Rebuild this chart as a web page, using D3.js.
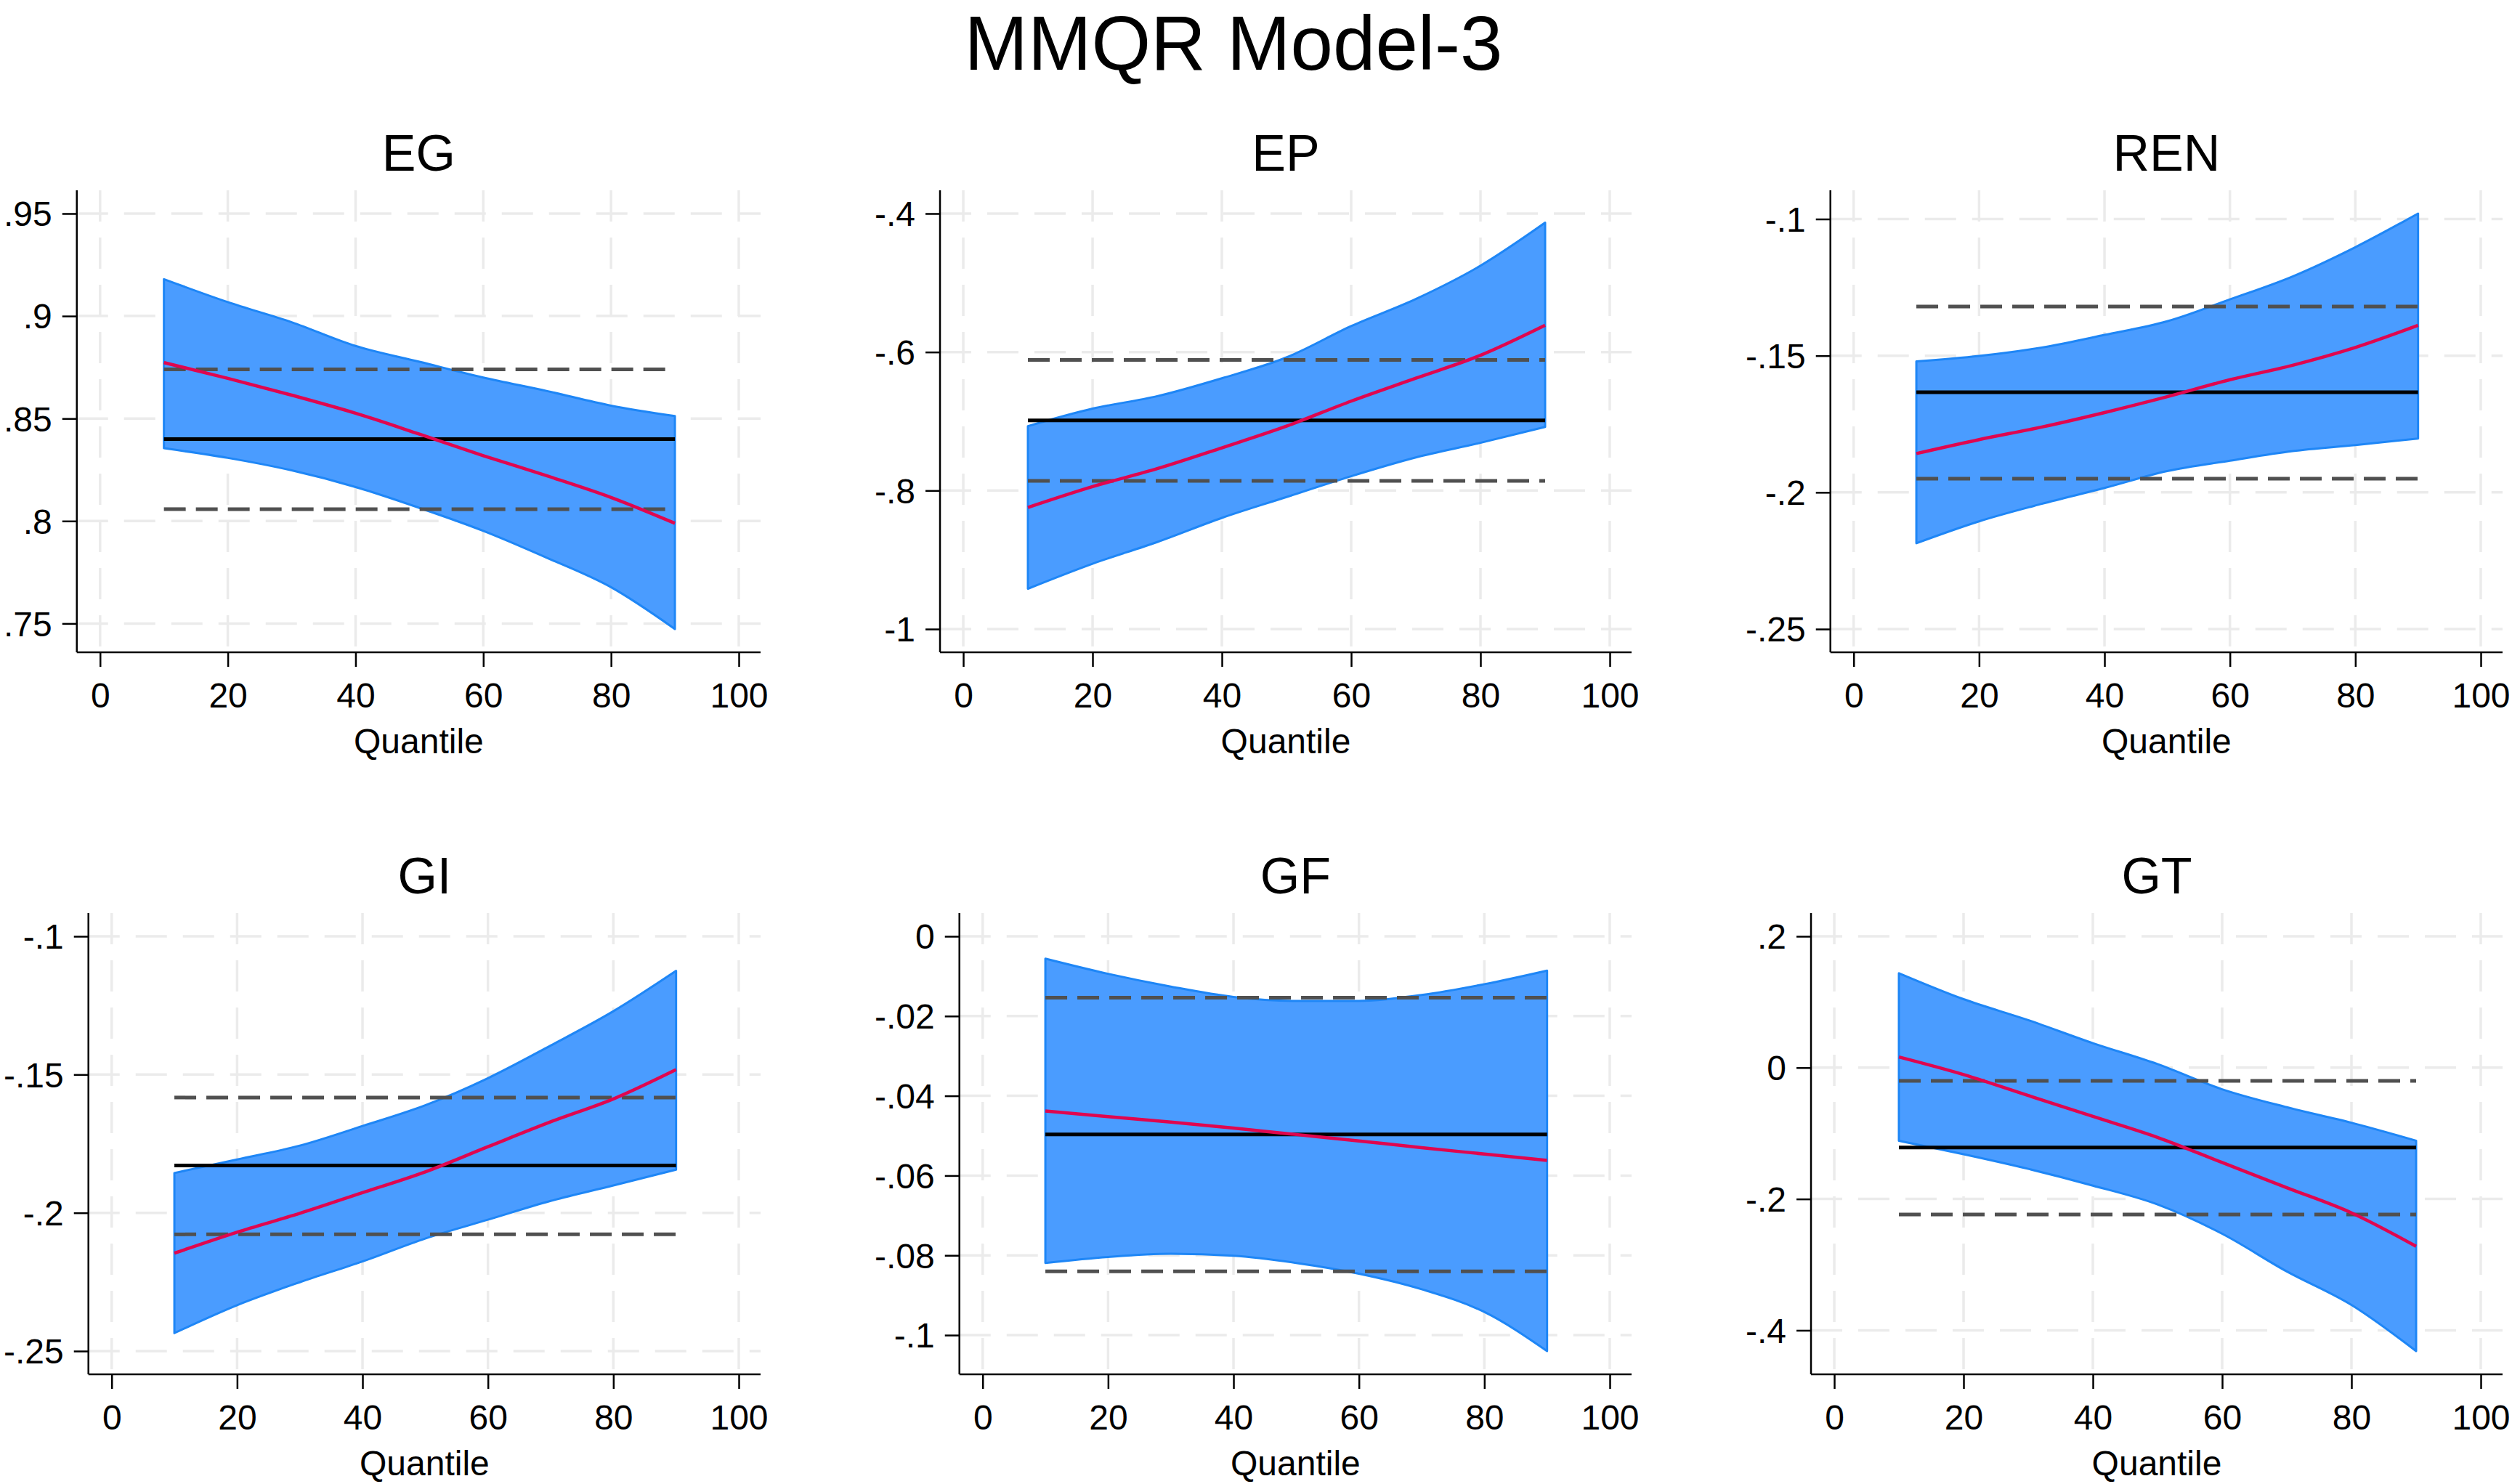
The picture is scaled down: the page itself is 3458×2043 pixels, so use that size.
<!DOCTYPE html>
<html>
<head>
<meta charset="utf-8">
<script src="https://cdn.jsdelivr.net/npm/d3@7"></script>
<style>
  html, body { margin: 0; padding: 0; background: #fff; }
  svg { display: block; font-family: "Liberation Sans", Arial, Helvetica, sans-serif; }
</style>
</head>
<body>
<svg id="chart" width="3458" height="2043"></svg>
<script>
// ---------------- DATA ----------------
const chartTitle = "MMQR Model-3";
const xAxisTitle = "Quantile";
const quantiles = [10, 20, 30, 40, 50, 60, 70, 80, 90];
const xTicks = [0, 20, 40, 60, 80, 100];
const panelNames = ["EG", "EP", "REN", "GI", "GF", "GT"];

// EG
const egUpper = [.918, .9068, .897, .8854, .8777, .870, .8634, .8563, .8512];
const egLower = [.8355, .8308, .8247, .8166, .8064, .7952, .782, .7677, .7473];
const egCoef  = [.8773, .8696, .8614, .8526, .8424, .8319, .822, .8115, .7989];
const egOls   = [.84, .8058, .874];           // estimate, lower CI, upper CI
const egTicks = [.75, .8, .85, .9, .95];
const egTickLabels = [".75", ".8", ".85", ".9", ".95"];

// EP
const epUpper = [-.707, -.6817, -.6637, -.6378, -.6077, -.5625, -.5234, -.4753, -.4132];
const epLower = [-.9418, -.9057, -.8744, -.8395, -.8094, -.7793, -.7522, -.7311, -.7082];
const epCoef  = [-.8244, -.7943, -.7684, -.7383, -.707, -.6709, -.6378, -.6047, -.5613];
const epOls   = [-.6986, -.7859, -.6113];
const epTicks = [-1, -.8, -.6, -.4];
const epTickLabels = ["-1", "-.8", "-.6", "-.4"];

// REN
const renUpper = [-.1521, -.1501, -.147, -.1424, -.1374, -.1294, -.121, -.1103, -.098];
const renLower = [-.2186, -.2106, -.2042, -.1984, -.1922, -.1884, -.1849, -.1827, -.1803];
const renCoef  = [-.1858, -.1807, -.1761, -.1708, -.165, -.1588, -.1535, -.147, -.1389];
const renOls   = [-.1634, -.195, -.132];
const renTicks = [-.25, -.2, -.15, -.1];
const renTickLabels = ["-.25", "-.2", "-.15", "-.1"];

// GI
const giUpper = [-.1856, -.1807, -.1757, -.1686, -.1611, -.1513, -.1395, -.1271, -.1125];
const giLower = [-.2435, -.2334, -.2251, -.2176, -.2093, -.2025, -.1957, -.1901, -.1844];
const giCoef  = [-.2146, -.207, -.2002, -.1927, -.1852, -.1761, -.1671, -.1588, -.1482];
const giOls   = [-.1829, -.2078, -.1583];
const giTicks = [-.25, -.2, -.15, -.1];
const giTickLabels = ["-.25", "-.2", "-.15", "-.1"];

// GF
const gfUpper = [-.0056, -.0094, -.0126, -.0152, -.0162, -.0162, -.0147, -.012, -.0086];
const gfLower = [-.0819, -.0804, -.0796, -.0801, -.0819, -.0846, -.0885, -.0942, -.104];
const gfCoef  = [-.0438, -.0452, -.0466, -.0481, -.0497, -.0513, -.053, -.0546, -.0562];
const gfOls   = [-.0497, -.084, -.0154];
const gfTicks = [-.1, -.08, -.06, -.04, -.02, 0];
const gfTickLabels = ["-.1", "-.08", "-.06", "-.04", "-.02", "0"];

// GT
const gtUpper = [.1438, .1043, .0724, .0373, .0054, -.0329, -.0603, -.0839, -.1113];
const gtLower = [-.1113, -.1318, -.1541, -.1796, -.2083, -.253, -.3104, -.3614, -.4316];
const gtCoef  = [.0163, -.0105, -.0424, -.0743, -.1062, -.1445, -.1828, -.2211, -.2721];
const gtOls   = [-.1216, -.2236, -.0201];
const gtTicks = [-.4, -.2, 0, .2];
const gtTickLabels = ["-.4", "-.2", "0", ".2"];

const panelData = [
  {upper: egUpper, lower: egLower, coef: egCoef, ols: egOls, ticks: egTicks, labels: egTickLabels},
  {upper: epUpper, lower: epLower, coef: epCoef, ols: epOls, ticks: epTicks, labels: epTickLabels},
  {upper: renUpper, lower: renLower, coef: renCoef, ols: renOls, ticks: renTicks, labels: renTickLabels},
  {upper: giUpper, lower: giLower, coef: giCoef, ols: giOls, ticks: giTicks, labels: giTickLabels},
  {upper: gfUpper, lower: gfLower, coef: gfCoef, ols: gfOls, ticks: gfTicks, labels: gfTickLabels},
  {upper: gtUpper, lower: gtLower, coef: gtCoef, ols: gtOls, ticks: gtTicks, labels: gtTickLabels}
];

// ---------------- STYLE / LAYOUT ----------------
const bandFill = "#4a9cff", bandEdge = "#1e86f6";
const coefColor = "#e0064f", olsColor = "#000", ciColor = "#505050";
const gridColor = "#ebebeb";
const tickFont = 48, titleFont = 70, axisTitleFont = 48, mainFont = 105;
const cellLeft0 = 5, colPitch = 1199, cellWidth = 1042;
const rowTop = [262, 1257], rowBottom = [898, 1892];
const tickLen = 20, labelGap = 14, yPad = 32, xPadL = 32, xPadR = 30;

const svg = d3.select("#chart");
svg.append("rect").attr("width", 3458).attr("height", 2043).attr("fill", "#fff");

svg.append("text")
  .attr("x", 1698).attr("y", 96)
  .attr("text-anchor", "middle")
  .attr("font-size", mainFont)
  .attr("fill", "#000")
  .text(chartTitle);

panelNames.forEach((name, i) => {
  const d = panelData[i];
  const col = i % 3, row = Math.floor(i / 3);
  const cellLeft = cellLeft0 + col * colPitch;
  const right = cellLeft + cellWidth;
  const top = rowTop[row], bottom = rowBottom[row];
  const g = svg.append("g");

  // measure widest y tick label
  const meas = g.append("g").attr("font-size", tickFont);
  let maxW = 0;
  d.labels.forEach(l => {
    const t = meas.append("text").text(l);
    maxW = Math.max(maxW, t.node().getComputedTextLength());
  });
  meas.remove();
  const axisX = cellLeft + maxW + tickLen + labelGap;

  const x = d3.scaleLinear().domain([0, 100]).range([axisX + xPadL, right - xPadR]);
  const allVals = d.upper.concat(d.lower, d.coef, d.ols, d.ticks);
  const y = d3.scaleLinear()
    .domain([d3.min(allVals), d3.max(allVals)])
    .range([bottom - yPad, top + yPad]);

  // grid
  g.append("g").selectAll("line.h").data(d.ticks).join("line")
    .attr("x1", axisX).attr("x2", right)
    .attr("y1", v => y(v)).attr("y2", v => y(v))
    .attr("stroke", gridColor).attr("stroke-width", 3.5)
    .attr("stroke-dasharray", "43,22");
  g.append("g").selectAll("line.v").data(xTicks).join("line")
    .attr("x1", v => x(v)).attr("x2", v => x(v))
    .attr("y1", top).attr("y2", bottom)
    .attr("stroke", gridColor).attr("stroke-width", 3.5)
    .attr("stroke-dasharray", "43,22");

  // band
  const pts = quantiles.map((q, k) => ({q, lo: d.lower[k], hi: d.upper[k], c: d.coef[k]}));
  const area = d3.area().x(p => x(p.q)).y0(p => y(p.lo)).y1(p => y(p.hi)).curve(d3.curveMonotoneX);
  g.append("path").attr("d", area(pts))
    .attr("fill", bandFill).attr("stroke", bandEdge).attr("stroke-width", 3)
    .attr("stroke-linejoin", "round");

  const q0 = quantiles[0], q1 = quantiles[quantiles.length - 1];
  // OLS CI dashed lines
  [d.ols[1], d.ols[2]].forEach(v => {
    g.append("line")
      .attr("x1", x(q0)).attr("x2", x(q1))
      .attr("y1", y(v)).attr("y2", y(v))
      .attr("stroke", ciColor).attr("stroke-width", 5)
      .attr("stroke-dasharray", "30,14");
  });
  // OLS estimate
  g.append("line")
    .attr("x1", x(q0)).attr("x2", x(q1))
    .attr("y1", y(d.ols[0])).attr("y2", y(d.ols[0]))
    .attr("stroke", olsColor).attr("stroke-width", 5);
  // quantile coefficient
  const line = d3.line().x(p => x(p.q)).y(p => y(p.c)).curve(d3.curveMonotoneX);
  g.append("path").attr("d", line(pts))
    .attr("fill", "none").attr("stroke", coefColor).attr("stroke-width", 4.5);

  // axes
  const yAxis = d3.axisLeft(y).tickValues(d.ticks)
    .tickFormat((v, k) => d.labels[k]).tickSize(tickLen).tickPadding(labelGap);
  const yg = g.append("g").attr("transform", `translate(${axisX},0)`).call(yAxis);
  yg.select(".domain").attr("d", `M0,${top}V${bottom}`).attr("stroke-width", 2.5);
  yg.selectAll(".tick line").attr("stroke-width", 2.5);
  yg.selectAll(".tick text").attr("font-size", tickFont).attr("font-family", null)
    .attr("fill", "#000").attr("dy", "0.35em");

  const xAxis = d3.axisBottom(x).tickValues(xTicks).tickSize(tickLen).tickPadding(22);
  const xg = g.append("g").attr("transform", `translate(0,${bottom})`).call(xAxis);
  xg.select(".domain").attr("d", `M${axisX},0H${right}`).attr("stroke-width", 2.5);
  xg.selectAll(".tick line").attr("stroke-width", 2.5);
  xg.selectAll(".tick text").attr("font-size", tickFont).attr("font-family", null)
    .attr("fill", "#000").attr("dy", "0.71em");

  // titles
  const cx = (axisX + right) / 2;
  g.append("text").attr("x", cx).attr("y", top - 27)
    .attr("text-anchor", "middle").attr("font-size", titleFont).attr("fill", "#000")
    .text(name);
  g.append("text").attr("x", cx).attr("y", bottom + 139)
    .attr("text-anchor", "middle").attr("font-size", axisTitleFont).attr("fill", "#000")
    .text(xAxisTitle);
});
</script>
</body>
</html>
